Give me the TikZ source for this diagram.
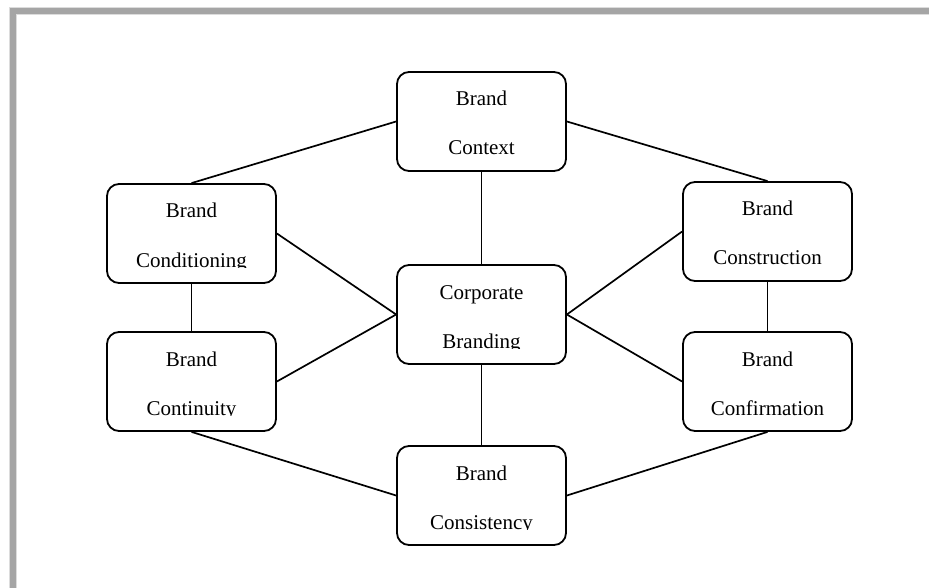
\documentclass[tikz,border=0pt]{standalone}
\usepackage{fontspec}
\setmainfont{Liberation Serif}
\definecolor{framegray}{HTML}{A5A5A5}
\definecolor{frameedge}{HTML}{DCDCDC}
\tikzset{
  box/.style={draw=black, line width=1.8pt, rounded corners=12pt, minimum width=169pt, minimum height=99pt, inner sep=0pt, fill=none},
  lbl/.style={font=\fontsize{21pt}{21pt}\selectfont, inner sep=0pt, anchor=base},
  link/.style={draw=black, line width=1.7pt}
}
\newcommand\brandbox[4]{%
  \node[box] (#1) at (#2+84.5,#3+49.5) {};
  \begin{scope}
    \clip (#2,#3) rectangle (#2+169,#3+83);
    \node[lbl] (#1a) at (#2+84.5,#3+34) {Brand};
    \node[lbl] (#1b) at (#2+84.5,#3+83) {#4};
  \end{scope}}
\newcommand\corpbox[3]{%
  \node[box] (#1) at (#2+84.5,#3+49.5) {};
  \begin{scope}
    \clip (#2,#3) rectangle (#2+169,#3+83);
    \node[lbl] (#1a) at (#2+84.5,#3+34) {Corporate};
    \node[lbl] (#1b) at (#2+84.5,#3+83) {Branding};
  \end{scope}}
\begin{document}
\begin{tikzpicture}[x=1pt,y=-1pt]
\useasboundingbox (0,0) rectangle (929,588);
\fill[white] (0,0) rectangle (929,588);
% frame
\fill[frameedge] (9,7) rectangle (929,588);
\fill[framegray] (10,8) rectangle (929,14);
\fill[framegray] (10,8) rectangle (16,588);
\fill[frameedge] (16,14) rectangle (929,15);
\fill[frameedge] (16,14) rectangle (17,588);
\fill[white] (17,15) rectangle (929,588);
% boxes
\brandbox{ctx}{397}{72}{Context}
\brandbox{cond}{107}{184}{Conditioning}
\brandbox{cont}{107}{332}{Continuity}
\brandbox{constr}{683}{182}{Construction}
\brandbox{conf}{683}{332}{Confirmation}
\brandbox{cons}{397}{446}{Consistency}
\corpbox{corp}{397}{265}
% links
\draw[link] (ctx.west) -- (cond.north);
\draw[link] (ctx.east) -- (constr.north);
\draw[link] (ctx.south) -- (corp.north);
\draw[link] (cond.east) -- (corp.west);
\draw[link] (cont.east) -- (corp.west);
\draw[link] (cond.south) -- (cont.north);
\draw[link] (constr.west) -- (corp.east);
\draw[link] (conf.west) -- (corp.east);
\draw[link] (constr.south) -- (conf.north);
\draw[link] (cont.south) -- (cons.west);
\draw[link] (conf.south) -- (cons.east);
\draw[link] (corp.south) -- (cons.north);
\end{tikzpicture}
\end{document}
